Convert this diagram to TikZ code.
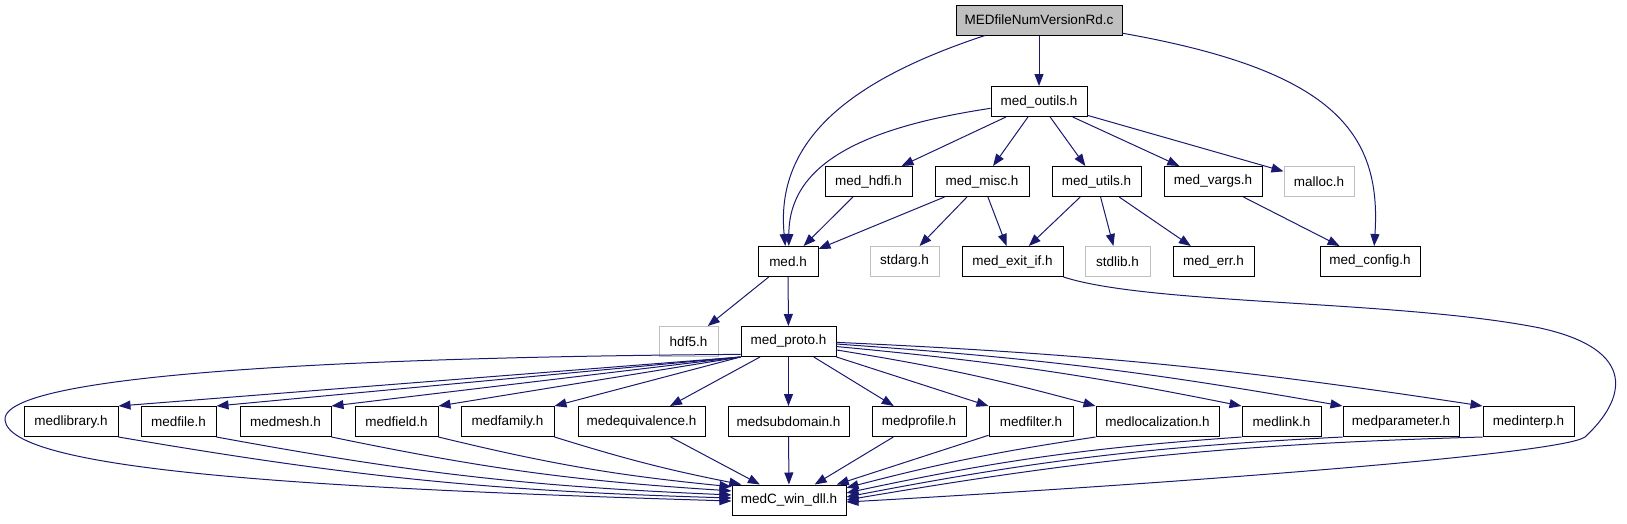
\documentclass[tikz,border=0pt]{standalone}
\usepackage{fontspec}
\setmainfont{Liberation Sans}
\usetikzlibrary{arrows.meta}
\definecolor{edgec}{RGB}{25,25,112}
\definecolor{graybox}{RGB}{191,191,191}
\begin{document}
\begin{tikzpicture}[x=1pt,y=-1pt,
  box/.style={draw=black, line width=1pt, fill=white, minimum height=30pt, inner sep=0pt, font=\fontsize{13.5}{15}\selectfont},
  gbox/.style={box, draw=graybox},
  edge/.style={draw=edgec, line width=1pt, -{Triangle[length=12pt,width=9pt]}}]
\useasboundingbox (0,0) rectangle (1627,523);
% nodes
\node[box, fill=graybox, minimum width=166pt] (top) at (1039,20) {MEDfileNumVersionRd.c};
\node[box, minimum width=96pt] (outils) at (1039,101.5) {med\_outils.h};
\node[box, minimum width=87pt] (hdfi) at (868.5,181.5) {med\_hdfi.h};
\node[box, minimum width=94pt] (misc) at (982,181.5) {med\_misc.h};
\node[box, minimum width=89pt] (utils) at (1096.5,181.5) {med\_utils.h};
\node[box, minimum width=98pt] (vargs) at (1213,181.5) {med\_vargs.h};
\node[gbox, minimum width=70pt] (malloc) at (1319,181.5) {malloc.h};
\node[box, minimum width=60pt] (medh) at (788,261.5) {med.h};
\node[gbox, minimum width=69pt] (stdarg) at (904.5,261.5) {stdarg.h};
\node[box, minimum width=101pt] (exitif) at (1012.5,261.5) {med\_exit\_if.h};
\node[gbox, minimum width=65pt] (stdlib) at (1117.5,261.5) {stdlib.h};
\node[box, minimum width=81pt] (err) at (1213.5,261.5) {med\_err.h};
\node[box, minimum width=100pt] (config) at (1370,261.5) {med\_config.h};
\node[gbox, minimum width=59pt] (hdf5) at (688.5,341.5) {hdf5.h};
\node[box, minimum width=95pt] (proto) at (788.5,341.5) {med\_proto.h};
\node[box, minimum width=94pt] (library) at (71,421.5) {medlibrary.h};
\node[box, minimum width=75pt] (file) at (178.5,421.5) {medfile.h};
\node[box, minimum width=91pt] (mesh) at (285.5,421.5) {medmesh.h};
\node[box, minimum width=83pt] (field) at (396.5,421.5) {medfield.h};
\node[box, minimum width=93pt] (family) at (507.5,421.5) {medfamily.h};
\node[box, minimum width=127pt] (equiv) at (641.5,421.5) {medequivalence.h};
\node[box, minimum width=121pt] (subdomain) at (788.5,421.5) {medsubdomain.h};
\node[box, minimum width=94pt] (profile) at (919,421.5) {medprofile.h};
\node[box, minimum width=84pt] (filter) at (1031,421.5) {medfilter.h};
\node[box, minimum width=123pt] (local) at (1157.5,421.5) {medlocalization.h};
\node[box, minimum width=79pt] (link) at (1281.5,421.5) {medlink.h};
\node[box, minimum width=116pt] (param) at (1401,421.5) {medparameter.h};
\node[box, minimum width=91pt] (interp) at (1528.5,421.5) {medinterp.h};
\node[box, minimum width=114pt] (dll) at (789,500) {medC\_win\_dll.h};
% edges from top
\draw[edge] (top) -- (outils);
\draw[edge] (top.-164) .. controls (850,80) and (775,140) .. (medh.100);
\draw[edge] (top.-9) .. controls (1330,70) and (1382,130) .. (config.75);
% edges from med_outils
\draw[edge] (outils.-172) .. controls (860,128) and (789,165) .. (medh.87);
\draw[edge] (outils) -- (hdfi);
\draw[edge] (outils) -- (misc);
\draw[edge] (outils) -- (utils);
\draw[edge] (outils) -- (vargs);
\draw[edge] (outils) -- (malloc);
% third row
\draw[edge] (hdfi) -- (medh);
\draw[edge] (misc) -- (medh);
\draw[edge] (misc) -- (stdarg);
\draw[edge] (misc) -- (exitif);
\draw[edge] (utils) -- (exitif);
\draw[edge] (utils) -- (stdlib);
\draw[edge] (utils) -- (err);
\draw[edge] (vargs) -- (config);
% med.h
\draw[edge] (medh) -- (hdf5);
\draw[edge] (medh) -- (proto);
% med_exit_if long curve
\draw[edge] (exitif.south east) .. controls (1150,305) and (1400,300) .. (1540,328)
  .. controls (1640,350) and (1625,400) .. (1585,437)
  .. controls (1560,455) and (1150,485) .. (dll.-2);
% med_proto to row
\draw[edge] (proto.south west) -- (library.north east);
\draw[edge] (proto.south west) -- (file.north east);
\draw[edge] (proto.south west) -- (mesh.north east);
\draw[edge] (proto.south west) -- (field.north east);
\draw[edge] (proto.south west) -- (family.north east);
\draw[edge] (proto) -- (equiv);
\draw[edge] (proto) -- (subdomain);
\draw[edge] (proto) -- (profile);
\draw[edge] (proto.south east) -- (filter.north west);
\draw[edge] (proto.-10) to[bend left=3] (local.north west);
\draw[edge] (proto.-6) to[bend left=3] (link.north west);
\draw[edge] (proto.-3) to[bend left=3] (param.north west);
\draw[edge] (proto.-1) to[bend left=3] (interp.north west);
\draw[edge] (proto.-165) .. controls (500,356) and (0,365) .. (5,420)
  .. controls (10,470) and (300,488) .. (dll.181);
% row to dll
\draw[edge] (library.south east) to[bend right=4] (dll.178);
\draw[edge] (file.south east) to[bend right=4] (dll.175);
\draw[edge] (mesh.south east) to[bend right=4] (dll.171);
\draw[edge] (field.south east) to[bend right=4] (dll.167);
\draw[edge] (family.south east) to[bend right=3] (dll.162);
\draw[edge] (equiv) -- (dll);
\draw[edge] (subdomain) -- (dll);
\draw[edge] (profile) -- (dll);
\draw[edge] (filter) -- (dll);
\draw[edge] (local.south west) to[bend right=3] (dll.12);
\draw[edge] (link.south west) to[bend right=4] (dll.7);
\draw[edge] (param.south west) to[bend right=4] (dll.3);
\draw[edge] (interp.south west) to[bend right=4] (dll.east);
\end{tikzpicture}
\end{document}
